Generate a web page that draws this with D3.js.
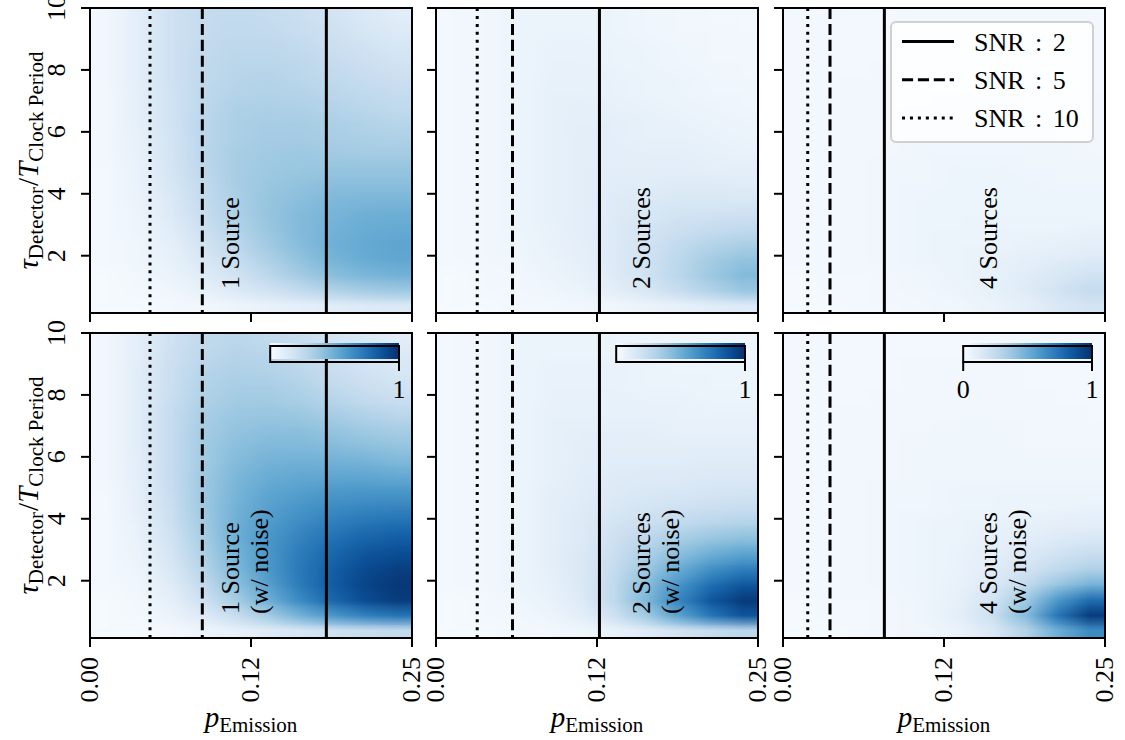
<!DOCTYPE html>
<html>
<head>
<meta charset="utf-8">
<script src="https://cdn.jsdelivr.net/npm/d3@7"></script>
<style>
  body { margin: 0; background: #fff; }
  text { font-family: "Liberation Serif", "DejaVu Serif", serif; fill: #000; }
</style>
</head>
<body>
<svg id="chart" width="1125" height="740"></svg>
<script>
// Grid cell centres of the success-probability maps
const pCenters = [0.0125, 0.0375, 0.0625, 0.0875, 0.1125, 0.1375, 0.1625, 0.1875, 0.2125, 0.2375];
const tauCenters = [9.75, 9.26, 8.77, 8.28, 7.78, 7.29, 6.80, 6.31, 5.81, 5.32,
                    4.83, 4.34, 3.84, 3.35, 2.86, 2.37, 1.87, 1.38, 0.89, 0.40];

// Rows follow tauCenters (top to bottom), columns follow pCenters
const oneSource = [
  [0.03, 0.10, 0.20, 0.24, 0.25, 0.24, 0.22, 0.18, 0.14, 0.11],
  [0.03, 0.10, 0.20, 0.24, 0.26, 0.25, 0.23, 0.20, 0.16, 0.13],
  [0.03, 0.10, 0.20, 0.25, 0.27, 0.27, 0.25, 0.22, 0.19, 0.16],
  [0.03, 0.10, 0.20, 0.26, 0.28, 0.28, 0.27, 0.24, 0.21, 0.18],
  [0.03, 0.10, 0.20, 0.26, 0.29, 0.30, 0.28, 0.26, 0.23, 0.21],
  [0.03, 0.09, 0.19, 0.27, 0.30, 0.31, 0.30, 0.28, 0.26, 0.24],
  [0.03, 0.09, 0.19, 0.27, 0.32, 0.33, 0.32, 0.30, 0.28, 0.26],
  [0.03, 0.09, 0.19, 0.28, 0.33, 0.34, 0.34, 0.33, 0.31, 0.29],
  [0.03, 0.08, 0.18, 0.28, 0.33, 0.35, 0.35, 0.34, 0.33, 0.32],
  [0.03, 0.08, 0.18, 0.28, 0.34, 0.36, 0.37, 0.36, 0.35, 0.35],
  [0.02, 0.07, 0.17, 0.27, 0.34, 0.37, 0.38, 0.39, 0.39, 0.39],
  [0.02, 0.07, 0.16, 0.26, 0.34, 0.38, 0.40, 0.42, 0.42, 0.42],
  [0.02, 0.06, 0.14, 0.25, 0.33, 0.39, 0.42, 0.45, 0.46, 0.46],
  [0.02, 0.05, 0.13, 0.23, 0.32, 0.39, 0.44, 0.47, 0.49, 0.50],
  [0.02, 0.05, 0.11, 0.21, 0.30, 0.38, 0.44, 0.48, 0.51, 0.52],
  [0.02, 0.04, 0.09, 0.18, 0.27, 0.36, 0.43, 0.49, 0.52, 0.54],
  [0.02, 0.04, 0.08, 0.15, 0.23, 0.32, 0.40, 0.47, 0.51, 0.53],
  [0.01, 0.03, 0.06, 0.12, 0.19, 0.27, 0.35, 0.42, 0.46, 0.48],
  [0.01, 0.02, 0.04, 0.08, 0.13, 0.19, 0.25, 0.31, 0.35, 0.37],
  [0.01, 0.01, 0.02, 0.03, 0.05, 0.07, 0.09, 0.11, 0.13, 0.14]
];
const twoSources = [
  [0.02, 0.03, 0.05, 0.06, 0.06, 0.05, 0.04, 0.03, 0.02, 0.02],
  [0.02, 0.03, 0.05, 0.06, 0.06, 0.05, 0.04, 0.03, 0.03, 0.02],
  [0.02, 0.03, 0.05, 0.07, 0.07, 0.06, 0.05, 0.04, 0.03, 0.03],
  [0.02, 0.03, 0.05, 0.07, 0.07, 0.06, 0.05, 0.04, 0.03, 0.03],
  [0.02, 0.03, 0.05, 0.07, 0.08, 0.07, 0.06, 0.05, 0.04, 0.03],
  [0.02, 0.03, 0.05, 0.08, 0.08, 0.07, 0.06, 0.05, 0.04, 0.04],
  [0.02, 0.03, 0.05, 0.08, 0.09, 0.08, 0.07, 0.06, 0.05, 0.04],
  [0.02, 0.03, 0.05, 0.08, 0.09, 0.09, 0.08, 0.07, 0.06, 0.05],
  [0.02, 0.03, 0.05, 0.08, 0.10, 0.09, 0.08, 0.08, 0.07, 0.06],
  [0.02, 0.03, 0.05, 0.08, 0.10, 0.10, 0.09, 0.09, 0.08, 0.07],
  [0.02, 0.03, 0.05, 0.08, 0.10, 0.10, 0.10, 0.10, 0.09, 0.09],
  [0.02, 0.03, 0.05, 0.08, 0.10, 0.11, 0.11, 0.12, 0.12, 0.11],
  [0.02, 0.03, 0.05, 0.08, 0.10, 0.12, 0.13, 0.15, 0.15, 0.15],
  [0.02, 0.03, 0.05, 0.08, 0.10, 0.12, 0.15, 0.18, 0.19, 0.20],
  [0.02, 0.03, 0.05, 0.07, 0.10, 0.13, 0.17, 0.21, 0.24, 0.26],
  [0.02, 0.03, 0.04, 0.07, 0.09, 0.13, 0.18, 0.25, 0.30, 0.33],
  [0.02, 0.03, 0.04, 0.06, 0.09, 0.13, 0.19, 0.27, 0.35, 0.40],
  [0.01, 0.02, 0.03, 0.05, 0.08, 0.12, 0.19, 0.28, 0.37, 0.44],
  [0.01, 0.02, 0.03, 0.04, 0.06, 0.10, 0.15, 0.23, 0.31, 0.38],
  [0.01, 0.01, 0.02, 0.02, 0.03, 0.04, 0.06, 0.08, 0.11, 0.13]
];
const fourSources = [
  [0.02, 0.02, 0.02, 0.02, 0.02, 0.02, 0.02, 0.02, 0.02, 0.02],
  [0.02, 0.02, 0.02, 0.02, 0.02, 0.02, 0.02, 0.02, 0.02, 0.02],
  [0.02, 0.02, 0.02, 0.02, 0.03, 0.03, 0.03, 0.02, 0.02, 0.02],
  [0.02, 0.02, 0.02, 0.02, 0.03, 0.03, 0.03, 0.02, 0.02, 0.02],
  [0.02, 0.02, 0.02, 0.03, 0.03, 0.03, 0.03, 0.03, 0.02, 0.02],
  [0.02, 0.02, 0.03, 0.03, 0.03, 0.03, 0.03, 0.03, 0.03, 0.02],
  [0.02, 0.02, 0.03, 0.03, 0.03, 0.04, 0.04, 0.03, 0.03, 0.03],
  [0.02, 0.02, 0.03, 0.03, 0.04, 0.04, 0.04, 0.03, 0.03, 0.03],
  [0.02, 0.02, 0.03, 0.03, 0.04, 0.04, 0.04, 0.04, 0.03, 0.03],
  [0.02, 0.02, 0.03, 0.03, 0.04, 0.04, 0.04, 0.04, 0.04, 0.03],
  [0.02, 0.02, 0.03, 0.04, 0.04, 0.05, 0.05, 0.04, 0.04, 0.04],
  [0.02, 0.02, 0.03, 0.04, 0.04, 0.05, 0.05, 0.05, 0.04, 0.04],
  [0.02, 0.02, 0.03, 0.04, 0.05, 0.05, 0.05, 0.05, 0.05, 0.05],
  [0.02, 0.02, 0.03, 0.04, 0.05, 0.05, 0.05, 0.05, 0.05, 0.05],
  [0.02, 0.02, 0.03, 0.04, 0.05, 0.05, 0.06, 0.06, 0.06, 0.07],
  [0.02, 0.02, 0.03, 0.04, 0.05, 0.06, 0.06, 0.07, 0.08, 0.09],
  [0.02, 0.02, 0.03, 0.04, 0.05, 0.06, 0.07, 0.09, 0.11, 0.13],
  [0.01, 0.02, 0.02, 0.03, 0.04, 0.06, 0.08, 0.11, 0.15, 0.19],
  [0.01, 0.02, 0.02, 0.03, 0.04, 0.05, 0.08, 0.12, 0.18, 0.24],
  [0.01, 0.01, 0.02, 0.02, 0.03, 0.04, 0.06, 0.09, 0.14, 0.18]
];
const oneSourceNoise = [
  [0.03, 0.10, 0.20, 0.26, 0.28, 0.26, 0.23, 0.18, 0.14, 0.11],
  [0.03, 0.10, 0.21, 0.27, 0.30, 0.29, 0.26, 0.21, 0.17, 0.14],
  [0.03, 0.11, 0.22, 0.29, 0.32, 0.31, 0.28, 0.23, 0.19, 0.16],
  [0.03, 0.11, 0.22, 0.31, 0.34, 0.34, 0.31, 0.26, 0.22, 0.19],
  [0.03, 0.11, 0.23, 0.32, 0.36, 0.36, 0.34, 0.30, 0.26, 0.23],
  [0.03, 0.11, 0.24, 0.34, 0.38, 0.39, 0.38, 0.35, 0.32, 0.29],
  [0.03, 0.11, 0.24, 0.35, 0.40, 0.42, 0.42, 0.40, 0.37, 0.35],
  [0.03, 0.11, 0.24, 0.36, 0.42, 0.45, 0.45, 0.44, 0.42, 0.40],
  [0.03, 0.10, 0.24, 0.36, 0.44, 0.48, 0.49, 0.49, 0.48, 0.46],
  [0.03, 0.10, 0.24, 0.37, 0.46, 0.51, 0.53, 0.54, 0.54, 0.53],
  [0.02, 0.09, 0.23, 0.37, 0.47, 0.54, 0.57, 0.60, 0.61, 0.61],
  [0.02, 0.09, 0.22, 0.37, 0.48, 0.56, 0.61, 0.65, 0.67, 0.68],
  [0.02, 0.08, 0.21, 0.36, 0.49, 0.58, 0.65, 0.70, 0.74, 0.76],
  [0.02, 0.07, 0.19, 0.34, 0.49, 0.60, 0.68, 0.75, 0.80, 0.83],
  [0.02, 0.06, 0.17, 0.32, 0.47, 0.60, 0.71, 0.79, 0.86, 0.89],
  [0.02, 0.05, 0.15, 0.29, 0.45, 0.59, 0.72, 0.82, 0.90, 0.94],
  [0.02, 0.04, 0.12, 0.25, 0.41, 0.56, 0.71, 0.83, 0.92, 0.97],
  [0.01, 0.03, 0.09, 0.20, 0.34, 0.49, 0.65, 0.79, 0.89, 0.95],
  [0.01, 0.02, 0.06, 0.13, 0.23, 0.35, 0.48, 0.60, 0.69, 0.74],
  [0.01, 0.01, 0.02, 0.05, 0.08, 0.12, 0.16, 0.20, 0.23, 0.25]
];
const twoSourcesNoise = [
  [0.02, 0.03, 0.05, 0.06, 0.06, 0.05, 0.05, 0.04, 0.04, 0.04],
  [0.02, 0.03, 0.05, 0.06, 0.06, 0.06, 0.05, 0.04, 0.04, 0.04],
  [0.02, 0.03, 0.05, 0.07, 0.07, 0.07, 0.06, 0.05, 0.05, 0.05],
  [0.02, 0.03, 0.05, 0.07, 0.07, 0.07, 0.06, 0.06, 0.05, 0.05],
  [0.02, 0.03, 0.05, 0.07, 0.08, 0.08, 0.07, 0.07, 0.06, 0.06],
  [0.02, 0.03, 0.05, 0.08, 0.08, 0.08, 0.08, 0.07, 0.07, 0.07],
  [0.02, 0.03, 0.05, 0.08, 0.09, 0.09, 0.09, 0.08, 0.08, 0.08],
  [0.02, 0.03, 0.05, 0.08, 0.10, 0.10, 0.10, 0.10, 0.10, 0.10],
  [0.02, 0.03, 0.05, 0.08, 0.10, 0.11, 0.11, 0.11, 0.12, 0.12],
  [0.02, 0.03, 0.05, 0.08, 0.11, 0.12, 0.13, 0.13, 0.14, 0.14],
  [0.02, 0.03, 0.05, 0.09, 0.11, 0.13, 0.15, 0.16, 0.17, 0.18],
  [0.02, 0.03, 0.05, 0.09, 0.12, 0.15, 0.18, 0.20, 0.22, 0.23],
  [0.02, 0.03, 0.05, 0.09, 0.13, 0.18, 0.22, 0.26, 0.29, 0.31],
  [0.02, 0.03, 0.05, 0.09, 0.13, 0.20, 0.27, 0.34, 0.39, 0.42],
  [0.02, 0.03, 0.05, 0.09, 0.14, 0.22, 0.32, 0.42, 0.50, 0.55],
  [0.02, 0.03, 0.05, 0.09, 0.14, 0.24, 0.37, 0.51, 0.63, 0.70],
  [0.02, 0.03, 0.05, 0.08, 0.14, 0.26, 0.42, 0.61, 0.76, 0.85],
  [0.01, 0.02, 0.04, 0.07, 0.13, 0.26, 0.45, 0.67, 0.85, 0.96],
  [0.01, 0.02, 0.03, 0.05, 0.10, 0.20, 0.36, 0.55, 0.73, 0.86],
  [0.01, 0.01, 0.02, 0.03, 0.04, 0.07, 0.12, 0.18, 0.24, 0.28]
];
const fourSourcesNoise = [
  [0.02, 0.02, 0.02, 0.02, 0.02, 0.02, 0.02, 0.02, 0.02, 0.02],
  [0.02, 0.02, 0.02, 0.02, 0.02, 0.02, 0.02, 0.02, 0.02, 0.02],
  [0.02, 0.02, 0.02, 0.02, 0.03, 0.03, 0.03, 0.02, 0.02, 0.02],
  [0.02, 0.02, 0.02, 0.02, 0.03, 0.03, 0.03, 0.02, 0.02, 0.02],
  [0.02, 0.02, 0.02, 0.03, 0.03, 0.03, 0.03, 0.03, 0.02, 0.02],
  [0.02, 0.02, 0.03, 0.03, 0.03, 0.03, 0.03, 0.03, 0.03, 0.02],
  [0.02, 0.02, 0.03, 0.03, 0.03, 0.04, 0.04, 0.03, 0.03, 0.03],
  [0.02, 0.02, 0.03, 0.03, 0.04, 0.04, 0.04, 0.03, 0.03, 0.03],
  [0.02, 0.02, 0.03, 0.03, 0.04, 0.04, 0.04, 0.04, 0.04, 0.04],
  [0.02, 0.02, 0.03, 0.03, 0.04, 0.04, 0.04, 0.04, 0.04, 0.04],
  [0.02, 0.02, 0.03, 0.04, 0.04, 0.05, 0.05, 0.05, 0.05, 0.05],
  [0.02, 0.02, 0.03, 0.04, 0.04, 0.05, 0.05, 0.06, 0.06, 0.07],
  [0.02, 0.02, 0.03, 0.04, 0.05, 0.06, 0.07, 0.08, 0.09, 0.10],
  [0.02, 0.02, 0.03, 0.04, 0.05, 0.06, 0.08, 0.10, 0.13, 0.15],
  [0.02, 0.02, 0.03, 0.04, 0.05, 0.07, 0.09, 0.13, 0.19, 0.23],
  [0.02, 0.02, 0.03, 0.04, 0.05, 0.07, 0.11, 0.18, 0.26, 0.32],
  [0.02, 0.02, 0.03, 0.04, 0.05, 0.08, 0.14, 0.25, 0.39, 0.48],
  [0.01, 0.02, 0.02, 0.03, 0.05, 0.09, 0.18, 0.36, 0.60, 0.77],
  [0.01, 0.02, 0.02, 0.03, 0.05, 0.10, 0.21, 0.43, 0.73, 0.95],
  [0.01, 0.01, 0.02, 0.03, 0.04, 0.07, 0.15, 0.30, 0.50, 0.65]
];

// Emission probability at which each SNR level is reached (order follows snrLevels)
const snrLevels = [2, 5, 10];
const snrOneSource = [0.1835, 0.0872, 0.0466];
const snrTwoSources = [0.1269, 0.0594, 0.0320];
const snrFourSources = [0.0787, 0.0365, 0.0192];

const columnLabels = ["1 Source", "2 Sources", "4 Sources"];
const noiseLabel = "(w/ noise)";
const xTicks = [0, 0.125, 0.25];
const xTickLabels = ["0.00", "0.12", "0.25"];
const yTicks = [2, 4, 6, 8, 10];
const colorbarTicks = [[1], [1], [0, 1]];

// ---- layout ----
const svg = d3.select("#chart");
const colX = [90, 436, 783];
const rowY = [8, 333];
const panelW = 322, panelH = 305;
const pDomain = [0, 0.25];
const tauDomain = [0.15, 10];
const FS = 26;      // tick / caption / legend size
const FS_MAIN = 29; // axis-title symbols
const FS_SUB = 21;  // axis-title subscripts

const color = d3.scaleSequential(d3.interpolateBlues).domain([0, 1]);

const styles = {
  2: { dash: null },
  5: { dash: "11.1,4.8" },
  10: { dash: "3,4.95" }
};

const panels = [
  { row: 0, col: 0, grid: oneSource, snr: snrOneSource, lines: [columnLabels[0]] },
  { row: 0, col: 1, grid: twoSources, snr: snrTwoSources, lines: [columnLabels[1]] },
  { row: 0, col: 2, grid: fourSources, snr: snrFourSources, lines: [columnLabels[2]] },
  { row: 1, col: 0, grid: oneSourceNoise, snr: snrOneSource, lines: [columnLabels[0], noiseLabel] },
  { row: 1, col: 1, grid: twoSourcesNoise, snr: snrTwoSources, lines: [columnLabels[1], noiseLabel] },
  { row: 1, col: 2, grid: fourSourcesNoise, snr: snrFourSources, lines: [columnLabels[2], noiseLabel] }
];

// caption baseline offset from the left spine, per column
const captionX = [149, 214, 214];

function gridImage(grid) {
  const rows = grid.length, cols = grid[0].length;
  const cv = document.createElement("canvas");
  cv.width = cols; cv.height = rows;
  const ctx = cv.getContext("2d");
  grid.forEach((row, r) => row.forEach((v, c) => {
    ctx.fillStyle = color(v);
    ctx.fillRect(c, r, 1, 1);
  }));
  return cv.toDataURL();
}

const defs = svg.append("defs");

panels.forEach((pn, i) => {
  const x0 = colX[pn.col], y0 = rowY[pn.row];
  const x = d3.scaleLinear().domain(pDomain).range([x0, x0 + panelW]);
  const y = d3.scaleLinear().domain(tauDomain).range([y0 + panelH, y0]);
  const g = svg.append("g");

  const clipId = "clip" + i;
  defs.append("clipPath").attr("id", clipId)
    .append("rect").attr("x", x0).attr("y", y0).attr("width", panelW).attr("height", panelH);

  // heat map: one pixel per grid cell, stretched over the cell extent
  const pStep = (pCenters[pCenters.length - 1] - pCenters[0]) / (pCenters.length - 1);
  const tStep = (tauCenters[0] - tauCenters[tauCenters.length - 1]) / (tauCenters.length - 1);
  const pL = pCenters[0] - pStep / 2, pR = pCenters[pCenters.length - 1] + pStep / 2;
  const tT = tauCenters[0] + tStep / 2, tB = tauCenters[tauCenters.length - 1] - tStep / 2;
  g.append("image")
    .attr("href", gridImage(pn.grid))
    .attr("x", x(pL)).attr("y", y(tT))
    .attr("width", x(pR) - x(pL)).attr("height", y(tB) - y(tT))
    .attr("preserveAspectRatio", "none")
    .attr("clip-path", `url(#${clipId})`);

  // SNR threshold lines
  g.append("g").attr("clip-path", `url(#${clipId})`)
    .selectAll("line").data(snrLevels).join("line")
    .attr("x1", (d, k) => x(pn.snr[k])).attr("x2", (d, k) => x(pn.snr[k]))
    .attr("y1", y(tauDomain[1])).attr("y2", y(tauDomain[0]))
    .attr("stroke", "#000").attr("stroke-width", 3)
    .attr("stroke-dasharray", d => styles[d].dash);

  // caption
  const cap = g.append("g");
  pn.lines.forEach((t, k) => {
    cap.append("text")
      .attr("transform", `translate(${x0 + captionX[pn.col] + k * 29},${y0 + panelH - 24}) rotate(-90)`)
      .attr("font-size", FS)
      .text(t);
  });

  // ticks
  const tk = g.append("g");
  tk.selectAll("line.xt").data(xTicks).join("line").attr("class", "xt")
    .attr("x1", d => x(d)).attr("x2", d => x(d))
    .attr("y1", y0 + panelH).attr("y2", y0 + panelH + 9)
    .attr("stroke", "#000").attr("stroke-width", 2);
  tk.selectAll("line.yt").data(yTicks).join("line").attr("class", "yt")
    .attr("x1", x0 - 9).attr("x2", x0)
    .attr("y1", d => y(d)).attr("y2", d => y(d))
    .attr("stroke", "#000").attr("stroke-width", 2);

  if (pn.col === 0) {
    tk.selectAll("text.yl").data(yTicks).join("text").attr("class", "yl")
      .attr("transform", d => `translate(${x0 - 25},${y(d)}) rotate(-90)`)
      .attr("text-anchor", "middle").attr("font-size", FS)
      .text(d => d3.format("d")(d));

    const yl = g.append("text")
      .attr("transform", `translate(38,${y0 + panelH / 2}) rotate(-90)`)
      .attr("text-anchor", "middle").attr("font-size", FS_MAIN);
    yl.append("tspan").attr("font-style", "italic").text("τ");
    yl.append("tspan").attr("font-size", FS_SUB).attr("dy", 5).text("Detector");
    yl.append("tspan").attr("dy", -5).attr("dx", 1).text("/");
    yl.append("tspan").attr("font-style", "italic").text("T");
    yl.append("tspan").attr("font-size", FS_SUB).attr("dy", 5).text("Clock Period");
  }
  if (pn.row === 1) {
    tk.selectAll("text.xl").data(xTicks).join("text").attr("class", "xl")
      .attr("transform", d => `translate(${x(d) + 8},${y0 + panelH + 19}) rotate(-90)`)
      .attr("text-anchor", "end").attr("font-size", FS)
      .text((d, k) => xTickLabels[k]);

    const xl = g.append("text")
      .attr("x", x0 + panelW / 2).attr("y", 727)
      .attr("text-anchor", "middle").attr("font-size", FS_MAIN);
    xl.append("tspan").attr("font-style", "italic").text("p");
    xl.append("tspan").attr("font-size", FS_SUB).attr("dy", 5).text("Emission");
  }

  // colour bar inset
  if (pn.row === 1) {
    const cbW = panelW * 0.4, cbH = 16;
    const cbX = x0 + panelW - 13 - cbW, cbY = y0 + 13;
    const gid = "cbgrad" + i;
    const grad = defs.append("linearGradient").attr("id", gid);
    d3.range(0, 1.0001, 0.1).forEach(t => {
      grad.append("stop").attr("offset", t).attr("stop-color", color(t));
    });
    const cs = d3.scaleLinear().domain([0, 1]).range([cbX, cbX + cbW]);
    g.append("rect").attr("x", cbX).attr("y", cbY - 3).attr("width", cbW).attr("height", cbH)
      .attr("fill", `url(#${gid})`);
    g.append("rect").attr("x", cbX).attr("y", cbY).attr("width", cbW).attr("height", cbH)
      .attr("fill", "none").attr("stroke", "#000").attr("stroke-width", 2);
    const ct = colorbarTicks[pn.col];
    g.selectAll("line.ct").data(ct).join("line").attr("class", "ct")
      .attr("x1", d => cs(d)).attr("x2", d => cs(d))
      .attr("y1", cbY + cbH).attr("y2", cbY + cbH + 9)
      .attr("stroke", "#000").attr("stroke-width", 2);
    g.selectAll("text.ctl").data(ct).join("text").attr("class", "ctl")
      .attr("x", d => cs(d)).attr("y", cbY + cbH + 36)
      .attr("text-anchor", "middle").attr("font-size", FS)
      .text(d => d3.format("d")(d));
  }

  // legend
  if (pn.row === 0 && pn.col === 2) {
    const lg = g.append("g");
    lg.append("rect").attr("x", 891).attr("y", 22).attr("width", 202).attr("height", 120)
      .attr("rx", 5).attr("fill", "#fff").attr("fill-opacity", 0.8)
      .attr("stroke", "#d0d0d0").attr("stroke-width", 2);
    snrLevels.forEach((lv, k) => {
      const ly = 41.5 + k * 38.3;
      lg.append("line").attr("x1", 902).attr("x2", 954).attr("y1", ly).attr("y2", ly)
        .attr("stroke", "#000").attr("stroke-width", 3)
        .attr("stroke-dasharray", styles[lv].dash);
      lg.append("text").attr("x", 974).attr("y", ly + 9).attr("font-size", FS)
        .attr("word-spacing", 4)
        .text(`SNR : ${lv}`);
    });
  }

  // frame
  g.append("rect").attr("x", x0).attr("y", y0).attr("width", panelW).attr("height", panelH)
    .attr("fill", "none").attr("stroke", "#000").attr("stroke-width", 2);
});
</script>
</body>
</html>
